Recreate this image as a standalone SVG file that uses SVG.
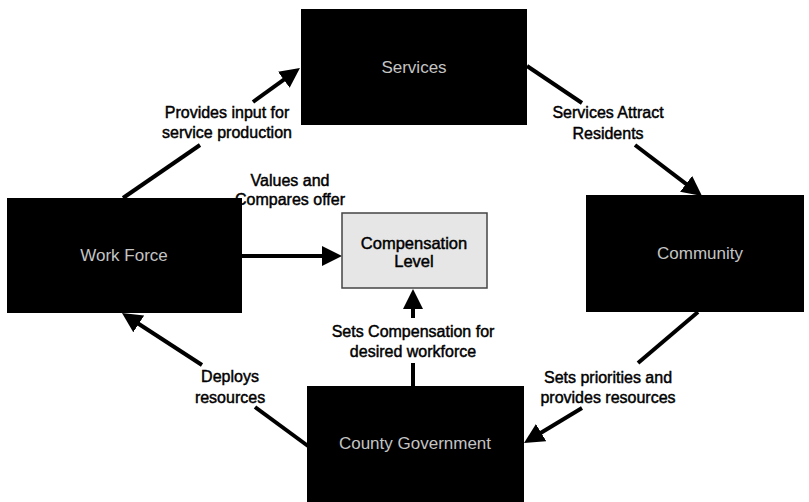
<svg xmlns="http://www.w3.org/2000/svg" width="809" height="502" viewBox="0 0 809 502">
<style>
.node{fill:#000}
.nt{font-family:"Liberation Sans",Arial,sans-serif;font-size:17px;fill:#c4c4c4;text-anchor:middle}
.lbl{font-family:"Liberation Sans",Arial,sans-serif;font-size:16px;fill:#000;stroke:#000;stroke-width:0.45;text-anchor:middle}
.ln{stroke:#000;stroke-width:4;fill:none}
</style>
<defs>
<marker id="ah" markerUnits="userSpaceOnUse" markerWidth="20" markerHeight="20" refX="4" refY="10" orient="auto">
<path d="M0,0 L20,10 L0,20 z" fill="#000"/>
</marker>
</defs>
<rect width="809" height="502" fill="#fff"/>
<g id="connectors">
<line class="ln" x1="123" y1="198" x2="200" y2="145"/>
<line class="ln" x1="253" y1="102" x2="287" y2="77.4" marker-end="url(#ah)"/>
<line class="ln" x1="527" y1="66" x2="582" y2="103"/>
<line class="ln" x1="635" y1="145" x2="689.3" y2="186.3" marker-end="url(#ah)"/>
<line class="ln" x1="698" y1="312" x2="638" y2="363"/>
<line class="ln" x1="582" y1="408" x2="537.7" y2="434.7" marker-end="url(#ah)"/>
<line class="ln" x1="308" y1="446" x2="255" y2="407"/>
<line class="ln" x1="202" y1="365" x2="135.4" y2="321.7" marker-end="url(#ah)"/>
<line class="ln" x1="242" y1="256" x2="326" y2="256" marker-end="url(#ah)"/>
<line class="ln" x1="413" y1="386" x2="413" y2="363"/>
<line class="ln" x1="413" y1="318" x2="413" y2="305" marker-end="url(#ah)"/>
<text class="lbl" x="227" y="118">Provides input for</text>
<text class="lbl" x="227" y="138">service production</text>
<text class="lbl" x="608" y="118">Services Attract</text>
<text class="lbl" x="608" y="139">Residents</text>
<text class="lbl" x="290" y="186">Values and</text>
<text class="lbl" x="290" y="205">Compares offer</text>
<text class="lbl" x="413" y="337">Sets Compensation for</text>
<text class="lbl" x="413" y="357">desired workforce</text>
<text class="lbl" x="608" y="383">Sets priorities and</text>
<text class="lbl" x="608" y="403">provides resources</text>
<text class="lbl" x="230" y="382">Deploys</text>
<text class="lbl" x="230" y="403">resources</text>
</g>
<g id="services">
<rect class="node" x="301" y="9" width="226" height="116"/>
<text class="nt" x="414" y="73">Services</text>
</g>
<g id="workforce">
<rect class="node" x="7" y="198" width="235" height="115"/>
<text class="nt" x="124" y="261">Work Force</text>
</g>
<g id="community">
<rect class="node" x="586" y="195" width="218" height="117"/>
<text class="nt" x="700" y="259">Community</text>
</g>
<g id="county">
<rect class="node" x="307" y="386" width="217" height="116"/>
<text class="nt" x="415" y="449">County Government</text>
</g>
<g id="compensation">
<rect x="342" y="213" width="145" height="75" fill="#e6e6e6" stroke="#444" stroke-width="1.5"/>
<text class="lbl" x="414" y="249" style="font-size:16.5px">Compensation</text>
<text class="lbl" x="414" y="267" style="font-size:16.5px">Level</text>
</g>
</svg>
